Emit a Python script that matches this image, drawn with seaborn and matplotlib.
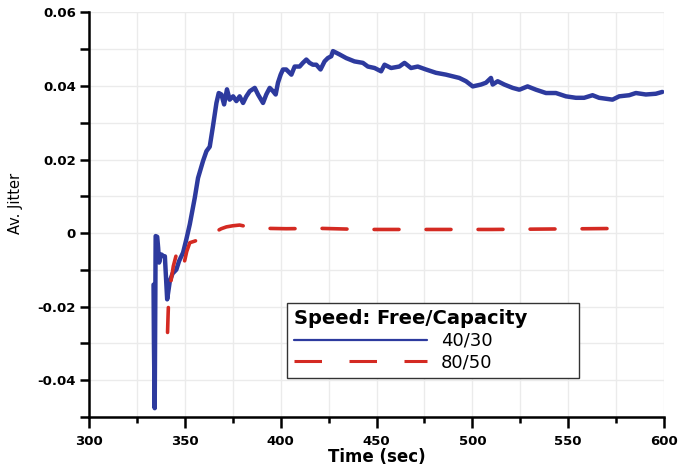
import numpy as np
import pandas as pd
import matplotlib
matplotlib.use("Agg")
import matplotlib.pyplot as plt
from matplotlib.lines import Line2D
import seaborn as sns

sns.set_theme(style="white")
plt.rcParams['font.family'] = ['DejaVu Sans']
plt.rcParams['text.color'] = 'black'
plt.rcParams['axes.labelcolor'] = 'black'
plt.rcParams['xtick.color'] = 'black'
plt.rcParams['ytick.color'] = 'black'

# Speed 40/30 (blue, solid)
t_4030 = [333.7, 333.9, 334.3, 334.8, 335.6, 336.1, 336.6, 337.2, 337.8, 338.6,
          339.6, 340.8, 342.2, 343.6, 345.6, 347.0, 349.1, 350.8, 352.6, 355.2,
          356.9, 359.5, 361.3, 363.0, 364.7, 366.5, 367.7, 369.1, 370.5, 372.0,
          373.4, 375.2, 376.9, 378.6, 380.4, 382.1, 383.9, 386.5, 388.2, 390.8,
          392.5, 394.3, 396.0, 397.4, 398.6, 400.0, 401.2, 402.9, 405.6, 407.3,
          409.9, 411.6, 413.4, 415.1, 416.8, 418.6, 420.8, 422.9, 424.6, 426.4,
          427.3, 430.7, 434.2, 438.5, 442.9, 445.5, 449.0, 452.4, 454.2, 457.6,
          461.9, 464.6, 468.0, 471.5, 475.8, 481.0, 486.2, 493.2, 496.7, 500.2,
          504.5, 507.1, 509.7, 510.6, 513.2, 516.7, 521.0, 524.5, 528.8, 533.2,
          538.4, 543.6, 548.8, 554.0, 558.3, 562.7, 566.1, 573.1, 576.6, 581.8,
          585.3, 590.5, 595.7, 599.1]
v_4030 = [-0.014, -0.030, -0.0476, -0.0008, -0.001, -0.004, -0.008, -0.0065, -0.0058, -0.0062,
          -0.0063, -0.018, -0.013, -0.011, -0.0099, -0.0076, -0.0053, -0.0017, 0.0024, 0.0096,
          0.015, 0.0196, 0.0223, 0.0235, 0.0291, 0.0354, 0.0381, 0.0377, 0.0350, 0.0391,
          0.0363, 0.0372, 0.0359, 0.0372, 0.0354, 0.0372, 0.0386, 0.0395, 0.0377, 0.0354,
          0.0377, 0.0395, 0.0386, 0.0377, 0.0409, 0.0431, 0.0445, 0.0445, 0.0431, 0.0453,
          0.0453, 0.0463, 0.0472, 0.0463, 0.0458, 0.0458, 0.0445, 0.0467, 0.0476, 0.0481,
          0.0495, 0.0486, 0.0476, 0.0467, 0.0463, 0.0453, 0.0449, 0.0440, 0.0458, 0.0449,
          0.0453, 0.0463, 0.0449, 0.0453, 0.0445, 0.0436, 0.0431, 0.0422, 0.0413, 0.0399,
          0.0404, 0.0409, 0.0422, 0.0404, 0.0413, 0.0404, 0.0395, 0.0390, 0.0399, 0.0390,
          0.0381, 0.0381, 0.0372, 0.0368, 0.0368, 0.0375, 0.0368, 0.0363, 0.0372, 0.0375,
          0.0381, 0.0377, 0.0379, 0.0384]

# Speed 80/50 (red, dashed)
t_8050 = [341.0, 341.3, 341.6, 342.5, 344.0, 345.5, 346.5, 348.0, 349.5, 351.0,
          352.6, 355.0, 357.8, 360.5, 363.0, 365.0, 366.5, 369.0, 371.7, 375.0,
          378.6, 382.1, 387.0, 392.5, 402.9, 420.3, 442.9, 463.7, 490.0, 510.0,
          535.0, 560.0, 580.2]
v_8050 = [-0.027, -0.022, -0.0175, -0.014, -0.009, -0.006, -0.0044, -0.007, -0.0085, -0.005,
          -0.0026, -0.0022, -0.0017, -0.0016, -0.0013, -0.0005, 0.0005, 0.0012, 0.0017, 0.0020,
          0.0022, 0.0018, 0.0015, 0.0013, 0.0012, 0.0013, 0.0010, 0.0010, 0.0010, 0.0010,
          0.0011, 0.0012, 0.0013]

labels = ["40/30", "80/50"]
xticks = [300, 350, 400, 450, 500, 550, 600]
yticks = [-0.04, -0.02, 0, 0.02, 0.04, 0.06]
ytick_labels = ["-0.04", "-0.02", "0", "0.02", "0.04", "0.06"]

blue = "#2d3a9e"
red = "#d42a22"

df1 = pd.DataFrame({"t": t_4030, "v": v_4030})
df2 = pd.DataFrame({"t": t_8050, "v": v_8050})

fig = plt.figure(figsize=(6.79, 4.71), dpi=100)
ax = fig.add_axes([0.131, 0.1146, 0.847, 0.8589])

sns.lineplot(data=df1, x="t", y="v", ax=ax, color=blue, linewidth=3.2,
             estimator=None, sort=False, solid_joinstyle="round", solid_capstyle="round")
sns.lineplot(data=df2, x="t", y="v", ax=ax, color=red, linewidth=2.6,
             estimator=None, sort=False, dashes=False)
ax.lines[-1].set_dashes([6.9, 7.5])
ax.lines[-1].set_dash_capstyle("round")

ax.set_xlim(300, 600)
ax.set_ylim(-0.05, 0.06)
ax.set_xticks(xticks)
ax.set_xticklabels([str(x) for x in xticks])
ax.set_xticks(np.arange(325, 600, 50), minor=True)
ax.set_yticks(yticks)
ax.set_yticklabels(ytick_labels)
ax.set_yticks([-0.05, -0.03, -0.01, 0.01, 0.03, 0.05], minor=True)

ax.grid(True, which="both", color="#ebebeb", linewidth=1.0)
ax.set_axisbelow(True)

for s in ["top", "right"]:
    ax.spines[s].set_visible(False)
for s in ["left", "bottom"]:
    ax.spines[s].set_color("black")
    ax.spines[s].set_linewidth(1.8)

ax.tick_params(axis="x", which="major", direction="out", length=8, width=1.8,
               color="black", pad=5, labelsize=9.5, bottom=True, labelcolor="black")
ax.tick_params(axis="x", which="minor", direction="out", length=4.5, width=1.8,
               color="black", bottom=True)
ax.tick_params(axis="y", which="both", direction="out", length=6.5, width=1.8,
               color="black", pad=3, labelsize=9.5, left=True, labelcolor="black")
for lab in ax.get_xticklabels() + ax.get_yticklabels():
    lab.set_fontweight("bold")

ax.set_xlabel("Time (sec)", fontsize=12, fontweight="bold", labelpad=0, color="black")
ax.set_ylabel("Av. Jitter", fontsize=10.5, color="black")
ax.yaxis.set_label_coords(-0.115, 0.527)

handles = [Line2D([0], [0], color=blue, linewidth=1.6),
           Line2D([0], [0], color=red, linewidth=2.2, dashes=[9, 9])]
leg = ax.legend(handles, labels, title="Speed: Free/Capacity",
                loc="upper left", bbox_to_anchor=(0.345, 0.094, 0.507, 0.188),
                mode="expand", borderaxespad=0, fontsize=13,
                title_fontproperties={"weight": "bold", "size": 14},
                handlelength=7.4, handletextpad=0.75, labelspacing=0.2,
                borderpad=0.35, fancybox=False, framealpha=1, alignment="left")
leg.get_frame().set_edgecolor("#333333")
leg.get_frame().set_linewidth(1.0)
for txt in leg.get_texts():
    txt.set_color("black")
leg.get_title().set_color("black")

fig.savefig("out.png", dpi=100)
